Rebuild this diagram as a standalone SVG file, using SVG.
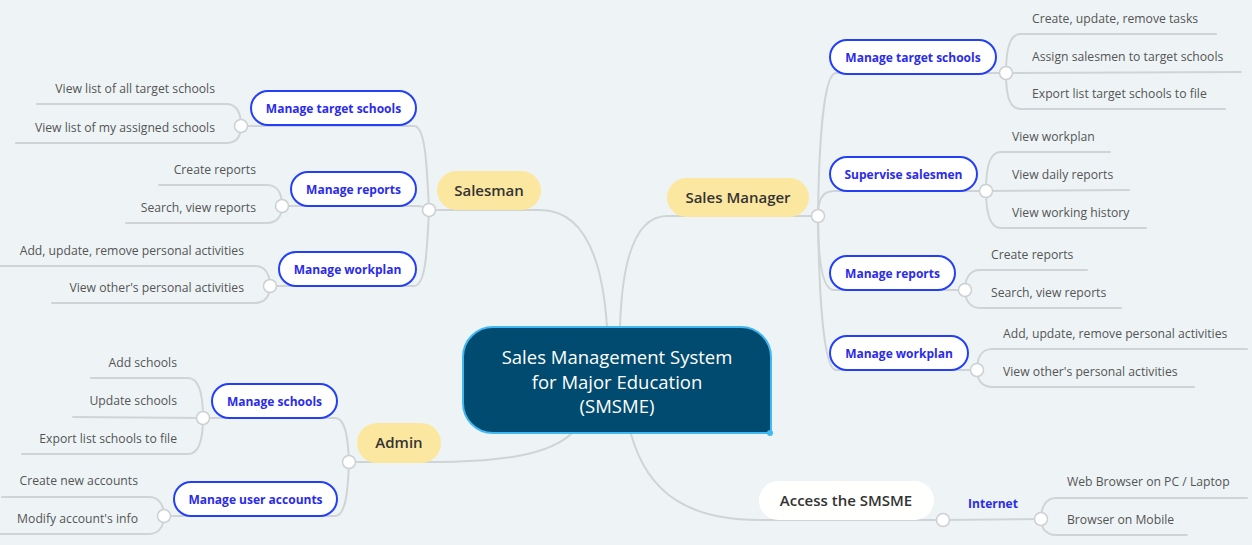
<svg xmlns="http://www.w3.org/2000/svg" width="1252" height="545" viewBox="0 0 1252 545">
<style>
.bg{fill:#EEF4F6}
.ln{fill:none;stroke:#D0D4D7;stroke-width:2;stroke-linecap:round}
.dot{fill:#FFFFFF;stroke:#CBD0D4;stroke-width:1.5}
.leaf{font-family:"Open Sans","Noto Sans",sans-serif;font-size:12.2px;fill:#555555}
.sub rect{fill:#FFFFFF;stroke:#2340F8;stroke-width:2}
.sub text,.blue{font-family:"Open Sans","Noto Sans",sans-serif;font-size:12px;font-weight:700;fill:#2B2BEA;text-anchor:middle}
.main rect{fill:#FCE7A0}
.main text{font-family:"Open Sans","Noto Sans",sans-serif;font-size:15px;font-weight:600;fill:#333333;text-anchor:middle}
.ctext{font-family:"Open Sans","Noto Sans",sans-serif;font-size:18.5px;fill:#FFFFFF;text-anchor:middle}
.r{text-anchor:end}
</style>
<rect class="bg" x="0" y="0" width="1252" height="545"/>

<g id="connectors">
<path class="ln" d="M429 210 L540 210 C580 210 602 250 607 327"/>
<path class="ln" d="M620 327 C622 260 635 216 667 216 L818 216"/>
<path class="ln" d="M349 462 L430 462 C500 462 550 455 572 433"/>
<path class="ln" d="M631 434 C648 495 690 520 760 520 L943 520"/>
<path class="ln" d="M429 210 C427 170 426 126 414 126 L241 126"/>
<path class="ln" d="M429 210 C428 208 424 206 414 206 L282 206"/>
<path class="ln" d="M429 210 C427 250 426 286 414 286 L270 286"/>
<path class="ln" d="M241 126 C241 112 236 104 226 104 L37 104"/>
<path class="ln" d="M241 126 C241 138 236 143 226 143 L16 143"/>
<path class="ln" d="M282 206 C282 193 277 185 267 185 L159 185"/>
<path class="ln" d="M282 206 C282 216 277 223 267 223 L126 223"/>
<path class="ln" d="M270 286 C270 274 265 266 255 266 L0 266"/>
<path class="ln" d="M270 286 C270 296 265 303 255 303 L52 303"/>
<path class="ln" d="M818 216 C819 140 824 73 836 73 L1006 73"/>
<path class="ln" d="M818 216 C818 200 822 191 834 191 L986 191"/>
<path class="ln" d="M818 216 C818 260 822 290 834 290 L965 290"/>
<path class="ln" d="M818 216 C819 300 824 370 836 370 L977 370"/>
<path class="ln" d="M1006 73 C1006 45 1011 34 1021 34 L1216 34"/>
<path class="ln" d="M1006 73 L1241 72"/>
<path class="ln" d="M1006 73 C1006 100 1011 109 1021 109 L1225 109"/>
<path class="ln" d="M986 191 C986 163 991 152 1001 152 L1110 152"/>
<path class="ln" d="M986 191 L1129 190"/>
<path class="ln" d="M986 191 C986 217 991 228 1001 228 L1146 228"/>
<path class="ln" d="M965 290 C965 278 970 270 980 270 L1087 270"/>
<path class="ln" d="M965 290 C965 300 970 308 980 308 L1121 308"/>
<path class="ln" d="M977 370 C977 357 982 349 992 349 L1247 349"/>
<path class="ln" d="M977 370 C977 380 982 387 992 387 L1194 387"/>
<path class="ln" d="M349 462 C348 440 346 418 335 418 L203 418"/>
<path class="ln" d="M349 462 C348 490 346 516 335 516 L164 516"/>
<path class="ln" d="M203 418 C203 390 198 378 188 378 L91 378"/>
<path class="ln" d="M203 418 L73 417"/>
<path class="ln" d="M203 418 C203 443 198 454 188 454 L22 454"/>
<path class="ln" d="M164 516 C164 505 159 497 149 497 L2 497"/>
<path class="ln" d="M164 516 C164 526 159 534 149 534 L0 534"/>
<path class="ln" d="M943 520 L1041 519"/>
<path class="ln" d="M1041 519 C1041 507 1046 498 1056 498 L1247 498"/>
<path class="ln" d="M1041 519 C1041 528 1046 535 1056 535 L1187 535"/>
</g>

<g id="central">
<path d="M493 327 H741 A30 30 0 0 1 771 357 V433 H493 A30 30 0 0 1 463 403 V357 A30 30 0 0 1 493 327 Z" fill="#004B6F" stroke="#42B8F2" stroke-width="2"/>
<circle cx="770" cy="433" r="3" fill="#42B8F2"/>
<text class="ctext" x="617" y="364">Sales Management System</text>
<text class="ctext" x="617" y="389">for Major Education</text>
<text class="ctext" x="617" y="413">(SMSME)</text>
</g>

<g id="salesman" class="main">
<rect x="437" y="171" width="104" height="39" rx="19.5"/>
<text x="489" y="196">Salesman</text>
</g>
<g id="sales-manager" class="main">
<rect x="667" y="178" width="142" height="39" rx="19.5"/>
<text x="738" y="203">Sales Manager</text>
</g>
<g id="admin" class="main">
<rect x="357" y="423" width="84" height="40" rx="20"/>
<text x="399" y="448">Admin</text>
</g>
<g id="access" class="main">
<rect x="759" y="481" width="175" height="39" rx="19.5" style="fill:#FFFFFE"/>
<text x="846" y="506">Access the SMSME</text>
</g>

<g id="s-target" class="sub"><rect x="251" y="91" width="165" height="34" rx="17"/><text x="333.5" y="112.5">Manage target schools</text></g>
<g id="s-reports" class="sub"><rect x="291" y="172" width="125" height="34" rx="17"/><text x="353.5" y="193.5">Manage reports</text></g>
<g id="s-workplan" class="sub"><rect x="279" y="252" width="137" height="34" rx="17"/><text x="347.5" y="273.5">Manage workplan</text></g>

<g id="m-target" class="sub"><rect x="830" y="40" width="166" height="34" rx="17"/><text x="913" y="61.5">Manage target schools</text></g>
<g id="m-supervise" class="sub"><rect x="830" y="157" width="147" height="34" rx="17"/><text x="903.5" y="178.5">Supervise salesmen</text></g>
<g id="m-reports" class="sub"><rect x="830" y="256" width="125" height="34" rx="17"/><text x="892.5" y="277.5">Manage reports</text></g>
<g id="m-workplan" class="sub"><rect x="830" y="336" width="138" height="34" rx="17"/><text x="899" y="357.5">Manage workplan</text></g>

<g id="a-schools" class="sub"><rect x="212" y="384" width="125" height="34" rx="17"/><text x="274.5" y="405.5">Manage schools</text></g>
<g id="a-accounts" class="sub"><rect x="174" y="482" width="163" height="34" rx="17"/><text x="255.5" y="503.5">Manage user accounts</text></g>

<g id="internet"><text class="blue" x="993" y="508">Internet</text></g>

<g id="dots">
<circle class="dot" cx="429" cy="210" r="6.5"/>
<circle class="dot" cx="241" cy="126" r="6.5"/>
<circle class="dot" cx="282" cy="206" r="6.5"/>
<circle class="dot" cx="270" cy="286" r="6.5"/>
<circle class="dot" cx="818" cy="216" r="6.5"/>
<circle class="dot" cx="1006" cy="73" r="6.5"/>
<circle class="dot" cx="986" cy="191" r="6.5"/>
<circle class="dot" cx="965" cy="290" r="6.5"/>
<circle class="dot" cx="977" cy="370" r="6.5"/>
<circle class="dot" cx="349" cy="462" r="6.5"/>
<circle class="dot" cx="203" cy="418" r="6.5"/>
<circle class="dot" cx="164" cy="516" r="6.5"/>
<circle class="dot" cx="943" cy="520" r="6.5"/>
<circle class="dot" cx="1041" cy="519" r="6.5"/>
</g>

<g id="leaves">
<text class="leaf r" x="215" y="93">View list of all target schools</text>
<text class="leaf r" x="215" y="132">View list of my assigned schools</text>
<text class="leaf r" x="256" y="174">Create reports</text>
<text class="leaf r" x="256" y="212">Search, view reports</text>
<text class="leaf r" x="244" y="255">Add, update, remove personal activities</text>
<text class="leaf r" x="244" y="292">View other's personal activities</text>

<text class="leaf" x="1032" y="23">Create, update, remove tasks</text>
<text class="leaf" x="1032" y="61">Assign salesmen to target schools</text>
<text class="leaf" x="1032" y="98">Export list target schools to file</text>
<text class="leaf" x="1012" y="141">View workplan</text>
<text class="leaf" x="1012" y="179">View daily reports</text>
<text class="leaf" x="1012" y="217">View working history</text>
<text class="leaf" x="991" y="259">Create reports</text>
<text class="leaf" x="991" y="297">Search, view reports</text>
<text class="leaf" x="1003" y="338">Add, update, remove personal activities</text>
<text class="leaf" x="1003" y="376">View other's personal activities</text>

<text class="leaf r" x="177" y="367">Add schools</text>
<text class="leaf r" x="177" y="405">Update schools</text>
<text class="leaf r" x="177" y="443">Export list schools to file</text>
<text class="leaf r" x="138" y="485">Create new accounts</text>
<text class="leaf r" x="138" y="523">Modify account's info</text>

<text class="leaf" x="1067" y="486">Web Browser on PC / Laptop</text>
<text class="leaf" x="1067" y="524">Browser on Mobile</text>
</g>
</svg>
